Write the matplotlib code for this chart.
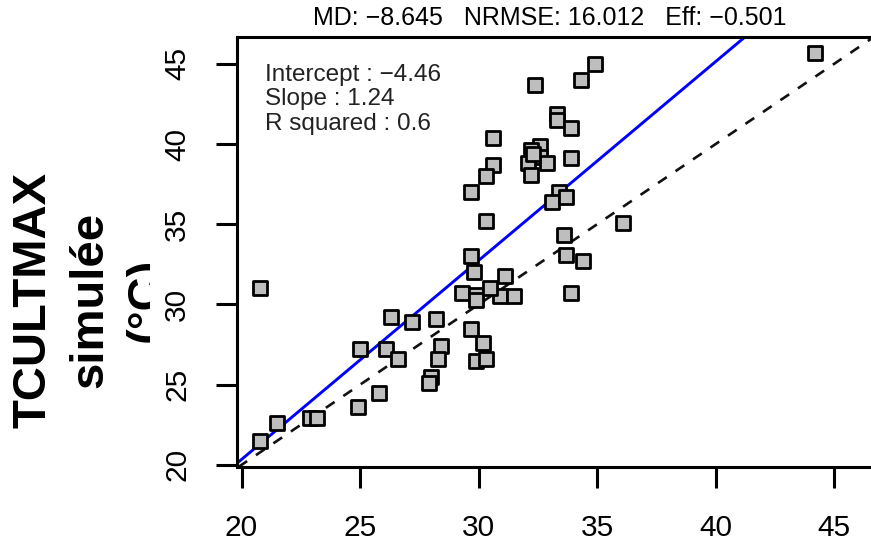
import matplotlib
matplotlib.use("Agg")
import matplotlib.pyplot as plt
from matplotlib.transforms import Bbox, TransformedBbox

plt.rcParams['font.family'] = ['Liberation Sans', 'DejaVu Sans']

# observed vs simulated TCULTMAX (°C)
obs = [20.8, 20.8, 21.5, 22.9, 23.2, 25.0, 24.9, 25.8, 26.3, 26.1,
       26.6, 27.2, 28.2, 28.4, 28.3, 28.0, 27.9, 29.3, 29.9, 29.9,
       30.9, 31.5, 33.9, 29.7, 30.2, 29.9, 30.3, 30.6, 30.3, 29.7,
       30.3, 33.4, 33.1, 33.7, 36.1, 33.6, 33.7, 34.4, 29.7, 29.8,
       31.1, 30.5, 34.9, 34.3, 32.4, 33.3, 33.3, 33.9, 30.6, 32.6,
       32.2, 32.6, 32.1, 32.9, 33.9, 32.2, 44.2, 32.3]
sim = [31.0, 21.5, 22.6, 22.9, 22.9, 27.2, 23.6, 24.5, 29.2, 27.2,
       26.6, 28.9, 29.1, 27.4, 26.6, 25.5, 25.1, 30.7, 30.6, 30.3,
       30.5, 30.5, 30.7, 28.5, 27.6, 26.5, 26.6, 38.7, 38.0, 37.0,
       35.2, 37.0, 36.4, 36.7, 35.1, 34.3, 33.1, 32.7, 33.0, 32.0,
       31.8, 31.0, 45.0, 44.0, 43.7, 41.9, 41.5, 41.0, 40.4, 39.9,
       39.6, 39.2, 38.8, 38.8, 39.1, 38.1, 45.7, 39.4]

intercept = -4.46
slope = 1.24
r_squared = 0.6
md, nrmse, eff = -8.645, 16.012, -0.501
ticks = [20, 25, 30, 35, 40, 45]

W, H = 871, 549
fig = plt.figure(figsize=(W / 100, H / 100), dpi=100)
ax = fig.add_axes([237 / W, 82 / H, (875 - 237) / W, 430 / H])

ax.axline((0, 0), slope=1, color='#111111', lw=1.9, dashes=(4, 4), zorder=1)
ax.axline((0, intercept), slope=slope, color='#0000FF', lw=2.1, zorder=2)
ax.scatter(obs, sim, marker='s', s=100, facecolor='#BEBEBE',
           edgecolor='black', linewidths=2.0, zorder=3)

ax.set_xlim(19.81, 46.72)
ax.set_ylim(19.87, 46.67)
ax.set_xticks(ticks)
ax.set_yticks(ticks)
ax.set_xticklabels([str(t) for t in ticks], fontsize=21.5)
ax.set_yticklabels([str(t) for t in ticks], fontsize=21.5,
                   rotation=90, va='center')
ax.tick_params(axis='both', length=15, width=2.2, color='black')
ax.tick_params(axis='x', pad=19)
ax.tick_params(axis='y', pad=18)
for sp in ax.spines.values():
    sp.set_linewidth(2.2)

fig.text(550 / W, 1 - 18 / H,
         f"MD: {md:.3f}   NRMSE: {nrmse:.3f}   Eff: {eff:.3f}".replace('-', '\u2212'),
         ha='center', va='center', fontsize=18)

stats = (f"Intercept : {intercept:.2f}\nSlope : {slope:.2f}\n"
         f"R squared : {r_squared:g}").replace('-', '\u2212')
ax.text(0.044, 0.938, stats, transform=ax.transAxes, ha='left', va='top',
        fontsize=17.5, linespacing=1.15, color='#222222')

ylab = fig.text(90 / W, 1 - 300 / H, "TCULTMAX\nsimulée\n(°C)",
                rotation=90, ha='center', va='center', multialignment='center',
                fontsize=34, fontweight='bold', linespacing=1.38, clip_on=True)
ylab.set_clip_box(TransformedBbox(Bbox([[0, 0], [150 / W, 1]]), fig.transFigure))

fig.savefig("out.png", dpi=100)
